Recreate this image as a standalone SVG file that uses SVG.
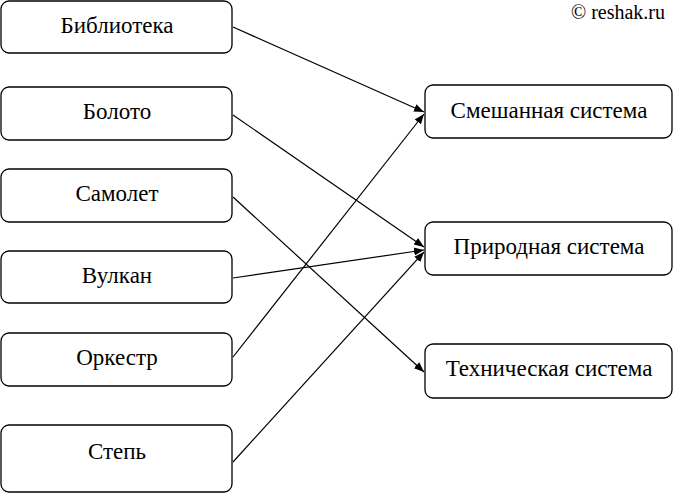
<svg xmlns="http://www.w3.org/2000/svg" width="674" height="495" viewBox="0 0 674 495">
<style>
.b{fill:#fff;stroke:#000;stroke-width:1.3}
.t{font-size:23px;text-anchor:middle;fill:#000}
.c{stroke:#000;stroke-width:1.2;fill:none;marker-end:url(#a)}
</style>
<defs><marker id="a" viewBox="0 0 10 10" refX="10" refY="5" markerWidth="10" markerHeight="10" markerUnits="userSpaceOnUse" orient="auto"><path d="M0,1L10,5L0,9z" fill="#000"/></marker></defs>
<rect width="674" height="495" fill="#fff"/>
<g font-family="Liberation Serif, DejaVu Serif, serif">
<text x="618" y="19" font-size="20" text-anchor="middle">© reshak.ru</text>
<g id="n1"><rect class="b" x="1" y="1" width="231" height="52" rx="8"/><text class="t" x="117" y="33">Библиотека</text></g>
<g id="n2"><rect class="b" x="1" y="87" width="231" height="53" rx="8"/><text class="t" x="117" y="119">Болото</text></g>
<g id="n3"><rect class="b" x="1" y="169" width="231" height="53" rx="8"/><text class="t" x="117" y="201">Самолет</text></g>
<g id="n4"><rect class="b" x="1" y="251" width="231" height="52" rx="8"/><text class="t" x="117" y="283">Вулкан</text></g>
<g id="n5"><rect class="b" x="1" y="333" width="231" height="53" rx="8"/><text class="t" x="117" y="365">Оркестр</text></g>
<g id="n6"><rect class="b" x="1" y="425" width="231" height="67" rx="8"/><text class="t" x="117" y="459">Степь</text></g>
<g id="m1"><rect class="b" x="425" y="85" width="247" height="53" rx="8"/><text class="t" x="549" y="118">Смешанная система</text></g>
<g id="m2"><rect class="b" x="425" y="222" width="247" height="53" rx="8"/><text class="t" x="549" y="254">Природная система</text></g>
<g id="m3"><rect class="b" x="425" y="344" width="247" height="54" rx="8"/><text class="t" x="549" y="376">Техническая система</text></g>
</g>
<g id="connectors">
<line class="c" x1="233" y1="27" x2="424" y2="112"/>
<line class="c" x1="233" y1="115" x2="424" y2="247"/>
<line class="c" x1="233" y1="197" x2="424" y2="372"/>
<line class="c" x1="233" y1="278" x2="424" y2="250"/>
<line class="c" x1="233" y1="357" x2="424" y2="114"/>
<line class="c" x1="233" y1="462" x2="424" y2="252"/>
</g>
</svg>
